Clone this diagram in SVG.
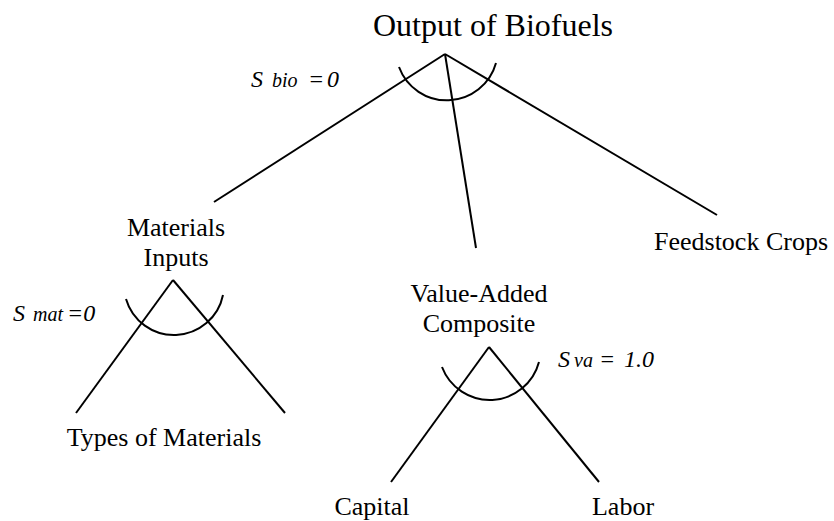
<svg xmlns="http://www.w3.org/2000/svg" width="834" height="521" viewBox="0 0 834 521">
<style>
.n{font-size:26px}
.t{font-size:32px}
.s{font-style:italic;font-size:24px}
.sub{font-size:20px}
.c line,.c path{stroke:#000;stroke-width:2;fill:none}
</style>
<rect width="834" height="521" fill="#fff"/>
<g id="connectors" class="c">
<line x1="445" y1="54" x2="214" y2="202"/>
<line x1="445" y1="54" x2="476" y2="248"/>
<line x1="445" y1="54" x2="717" y2="215"/>
<path d="M399,67 A51,51 0 0,0 496,63"/>
<line x1="173" y1="280" x2="76" y2="413"/>
<line x1="173" y1="280" x2="285" y2="413"/>
<path d="M126,299 A50,50 0 0,0 223,295"/>
<line x1="489" y1="347" x2="391" y2="482"/>
<line x1="489" y1="347" x2="599" y2="482"/>
<path d="M442,367 A51,51 0 0,0 539,362"/>
</g>
<g font-family="Liberation Serif, Times New Roman, serif" fill="#000">
<g id="output"><text class="t" x="493" y="36" text-anchor="middle">Output of Biofuels</text></g>
<g id="sbio"><text class="s" y="87"><tspan x="251">S</tspan><tspan class="sub" x="272">bio</tspan><tspan x="308">=</tspan><tspan x="327">0</tspan></text></g>
<g id="materials"><text class="n" text-anchor="middle"><tspan x="176" y="236">Materials</tspan><tspan x="176" y="266">Inputs</tspan></text></g>
<g id="feedstock"><text class="n" x="741" y="250" text-anchor="middle">Feedstock Crops</text></g>
<g id="smat"><text class="s" y="321"><tspan x="13">S</tspan><tspan class="sub" x="33">mat</tspan><tspan x="67">=0</tspan></text></g>
<g id="valueadded"><text class="n" text-anchor="middle"><tspan x="479" y="302">Value-Added</tspan><tspan x="479" y="332">Composite</tspan></text></g>
<g id="sva"><text class="s" y="367"><tspan x="558">S</tspan><tspan class="sub" x="574">va</tspan><tspan x="599">=</tspan><tspan x="624">1.0</tspan></text></g>
<g id="types"><text class="n" x="164" y="446" text-anchor="middle">Types of Materials</text></g>
<g id="capital"><text class="n" x="372" y="515" text-anchor="middle">Capital</text></g>
<g id="labor"><text class="n" x="623" y="515" text-anchor="middle">Labor</text></g>
</g>
</svg>
